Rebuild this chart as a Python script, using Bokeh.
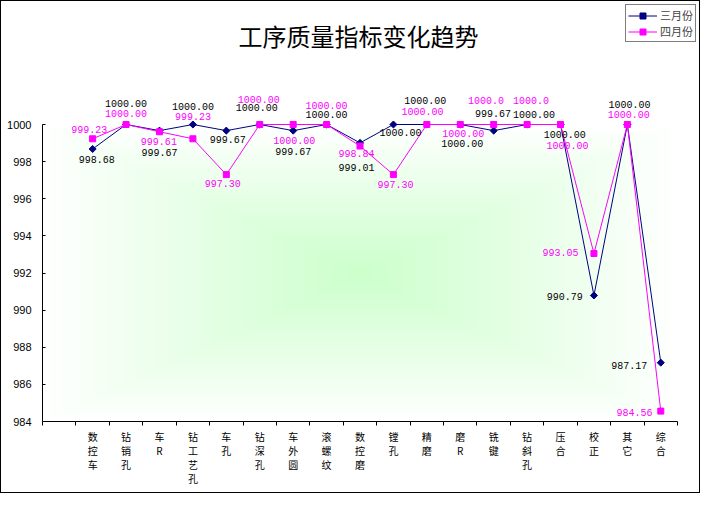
import numpy as np
from bokeh.plotting import figure
from bokeh.models import Range1d, FixedTicker, Label, Legend, LegendItem
from bokeh.core.properties import value
from bokeh.embed import file_html
from bokeh.resources import INLINE

# ---------------- data ----------------
title_text = "工序质量指标变化趋势"
categories = ["数控车", "钻销孔", "车R", "钻工艺孔", "车孔", "钻深孔", "车外圆", "滚螺纹",
              "数控磨", "镗孔", "精磨", "磨R", "铣键", "钻斜孔", "压合", "校正", "其它", "综合"]
series_names = ["三月份", "四月份"]
march = [998.68, 1000.00, 999.67, 1000.00, 999.67, 1000.00, 999.67, 1000.00, 999.01,
         1000.00, 1000.00, 1000.00, 999.67, 1000.00, 1000.00, 990.79, 1000.00, 987.17]
april = [999.23, 1000.00, 999.61, 999.23, 997.30, 1000.00, 1000.00, 1000.00, 998.84,
         997.30, 1000.00, 1000.00, 1000.00, 1000.00, 1000.00, 993.05, 1000.00, 984.56]
y_ticks = [984, 986, 988, 990, 992, 994, 996, 998, 1000]

# label decimals (Excel truncated two April labels)
march_dec = [2] * 18
april_dec = [2] * 12 + [1, 1] + [2] * 4

# label offsets in screen px (layout only)
m_dx = [4, 0, 0, 0, 1.4, -3, 0, 0, -3.4, 7, -1.5, 2, -0.6, 7, 4.3, -29.3, 2.2, -31.5]
m_dy = [10.5, -21, 21.6, -18, 9, -16.7, 20.6, -10, 24.6, 7.7, -24, 18.7, -16.8, -10, 10, 1.2, -20, 3]
a_dx = [-3.5, 0, -0.6, 0, -3.6, -1, 1, 0, -3.4, 2.2, -4.3, 3, -7.6, 4, 7, -33.5, 1.3, -26.3]
a_dy = [-9.3, -11, 9.8, -22.3, 9, -24.7, 16, -19, 7.8, 10, -13.3, 9.3, -24, -24, 21, -0.6, -10, 1.4]

# ---------------- layout ----------------
W, H = 698, 491
n_slots = len(categories) + 1          # first slot is empty
ax_left_px, ax_right_px = 41, 676
y_top_px, y_bot_px = 123, 420
ymin, ymax = y_ticks[0], y_ticks[-1]
x_per_px = n_slots / (ax_right_px - ax_left_px)
y_per_px = (ymax - ymin) / (y_bot_px - y_top_px)
x_end = n_slots + (W - ax_right_px) * x_per_px
y_end = ymax + y_top_px * y_per_px


def px_x(px):
    return (px - ax_left_px) * x_per_px


def px_y(py):
    return ymax - (py - y_top_px) * y_per_px


p = figure(width=W, height=H, output_backend="svg", toolbar_location=None,
           x_range=Range1d(0, x_end), y_range=Range1d(ymin, y_end),
           min_border_left=ax_left_px, min_border_right=0, min_border_top=0,
           min_border_bottom=H - y_bot_px)
p.frame_width = W - ax_left_px
p.frame_height = y_bot_px
p.styles = {"border": "1px solid black", "box-sizing": "border-box"}
p.outline_line_color = None
p.background_fill_color = "white"
p.border_fill_color = "white"
p.xgrid.visible = False
p.ygrid.visible = False

# gradient background of plot area (rectangular "from centre")
nx, ny = 320, 160
U, V = np.meshgrid(np.linspace(-1, 1, nx), np.linspace(-1, 1, ny))
t = np.clip(np.maximum(np.abs(U), np.abs(V)), 0, 1)
img = np.empty((ny, nx), dtype=np.uint32)
view = img.view(dtype=np.uint8).reshape((ny, nx, 4))
rb = (255 - (255 - 204) * (1 - t)).astype(np.uint8)
view[..., 0] = rb
view[..., 1] = 255
view[..., 2] = rb
view[..., 3] = 255
p.image_rgba(image=[img], x=0, y=ymin, dw=n_slots, dh=ymax - ymin)

xs = [i + 1.5 for i in range(len(categories))]

navy = "#000080"
mag = "#FF00FF"
l1 = p.line(xs, march, line_color=navy, line_width=1)
s1 = p.scatter(xs, march, marker="square", angle=np.pi / 4, size=5,
               fill_color=navy, line_color=navy)
l2 = p.line(xs, april, line_color=mag, line_width=1)
s2 = p.scatter(xs, april, marker="square", size=6, fill_color=mag, line_color=mag)

m_labels = [f"{v:.{d}f}" for v, d in zip(march, march_dec)]
a_labels = [f"{v:.{d}f}" for v, d in zip(april, april_dec)]
p.text(x=xs, y=april, text=a_labels, x_offset=a_dx, y_offset=a_dy,
       text_align="center", text_baseline="middle", text_font=value("Liberation Mono"),
       text_font_size="10px", text_color=mag)
p.text(x=xs, y=march, text=m_labels, x_offset=m_dx, y_offset=m_dy,
       text_align="center", text_baseline="middle", text_font=value("Liberation Mono"),
       text_font_size="10px", text_color="black")

# axes
xa = p.xaxis[0]
xa.ticker = FixedTicker(ticks=xs, minor_ticks=list(range(0, n_slots + 1)))
xa.major_label_overrides = {x: "\n".join(c) for x, c in zip(xs, categories)}
xa.bounds = (0, n_slots)
xa.major_tick_in = 0
xa.major_tick_out = 0
xa.minor_tick_in = 0
xa.minor_tick_out = 4
xa.minor_tick_line_color = "black"
xa.axis_line_color = "black"
xa.major_label_standoff = 3
xa.major_label_text_font = "Noto Sans CJK SC"
xa.major_label_text_font_size = "10px"
xa.major_label_text_line_height = 0.95
xa.major_label_text_color = "black"

ya = p.yaxis[0]
ya.ticker = FixedTicker(ticks=y_ticks)
ya.bounds = (ymin, ymax)
ya.major_tick_in = 3
ya.major_tick_out = 0
ya.minor_tick_in = 0
ya.minor_tick_out = 0
ya.axis_line_color = "black"
ya.major_tick_line_color = "black"
ya.major_label_standoff = 11
ya.major_label_text_font = "Liberation Sans"
ya.major_label_text_font_size = "11px"
ya.major_label_text_color = "black"

# title
p.add_layout(Label(x=px_x(357), y=px_y(33.5), text=title_text, text_align="center",
                   text_baseline="middle", text_font="Noto Sans CJK SC",
                   text_font_size="24px", text_color="black"))

legend = Legend(items=[LegendItem(label=series_names[0], renderers=[l1, s1]),
                       LegendItem(label=series_names[1], renderers=[l2, s2])],
                location="top_right", margin=3, padding=2, spacing=0,
                glyph_width=29, glyph_height=15, label_height=15, label_standoff=3,
                label_text_font="Noto Sans CJK SC", label_text_font_size="11px",
                border_line_color="black", border_line_width=1,
                background_fill_color="white", background_fill_alpha=1)
p.add_layout(legend)

open("out.html", "w").write(file_html(p, INLINE))
